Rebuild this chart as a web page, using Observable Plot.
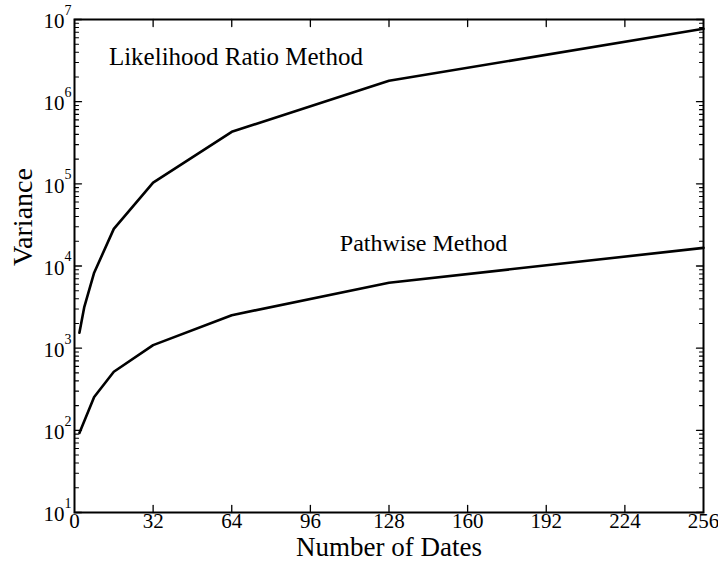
<!DOCTYPE html>
<html>
<head>
<meta charset="utf-8">
<script src="https://cdn.jsdelivr.net/npm/d3@7"></script>
<script src="https://cdn.jsdelivr.net/npm/@observablehq/plot@0.6"></script>
<style>
  html, body { margin: 0; padding: 0; background: #fff; }
  #chart svg { display: block; }
  #chart svg, #chart svg text { font-family: "Liberation Serif", "Times New Roman", serif !important; }
</style>
</head>
<body>
<div id="chart"></div>
<script>
// ---- data ----
const likelihoodDates = [2, 4, 8, 16, 32, 64, 128, 256];
const likelihoodVariance = [1540, 3190, 8280, 28300, 103700, 430000, 1800000, 7700000];
const pathwiseDates = [2, 8, 16, 32, 64, 128, 256];
const pathwiseVariance = [93, 255, 517, 1090, 2520, 6260, 16600];
const xTickValues = [0, 32, 64, 96, 128, 160, 192, 224, 256];
const yExponents = [1, 2, 3, 4, 5, 6, 7];
const seriesLabels = ["Likelihood Ratio Method", "Pathwise Method"];

const likelihood = likelihoodDates.map((d, i) => ({x: d, y: likelihoodVariance[i]}));
const pathwise = pathwiseDates.map((d, i) => ({x: d, y: pathwiseVariance[i]}));
const yMajor = yExponents.map(e => 10 ** e);
const yMinor = [];
for (const e of yExponents.slice(0, -1)) for (let k = 2; k <= 9; k++) yMinor.push(k * 10 ** e);
const xInner = xTickValues.slice(1, -1);

const annotations = [
  {x: 14, y: 3.5e6, text: seriesLabels[0], size: 25},
  {x: 108, y: 1.9e4, text: seriesLabels[1], size: 24}
];

const tickUp = {draw(c, l) { c.moveTo(0, 0); c.lineTo(0, -l); }};
const tickDown = {draw(c, l) { c.moveTo(0, 0); c.lineTo(0, l); }};
const tickRight = {draw(c, l) { c.moveTo(0, 0); c.lineTo(l, 0); }};
const tickLeft = {draw(c, l) { c.moveTo(0, 0); c.lineTo(-l, 0); }};

const font = "Liberation Serif, Times New Roman, serif";

const chart = Plot.plot({
  width: 718,
  height: 569,
  marginLeft: 74,
  marginRight: 15,
  marginTop: 19,
  marginBottom: 57,
  style: {background: "#fff", color: "#000"},
  x: {domain: [0, 256], axis: null},
  y: {type: "log", domain: [10, 1e7], axis: null},
  marks: [
    // ticks (inward)
    Plot.vector(xInner, {x: d => d, y: 10, length: 7, anchor: "start", shape: tickUp, stroke: "black", strokeWidth: 1.3}),
    Plot.vector(xInner, {x: d => d, y: 1e7, length: 7, anchor: "start", shape: tickDown, stroke: "black", strokeWidth: 1.3}),
    Plot.vector(yMajor, {x: 0, y: d => d, length: 7, anchor: "start", shape: tickRight, stroke: "black", strokeWidth: 1.3}),
    Plot.vector(yMinor, {x: 0, y: d => d, length: 4, anchor: "start", shape: tickRight, stroke: "black", strokeWidth: 1.1}),
    Plot.vector(yMajor, {x: 256, y: d => d, length: 7, anchor: "start", shape: tickLeft, stroke: "black", strokeWidth: 1.3}),
    Plot.vector(yMinor, {x: 256, y: d => d, length: 4, anchor: "start", shape: tickLeft, stroke: "black", strokeWidth: 1.1}),
    // frame
    Plot.frame({stroke: "black", strokeWidth: 2}),
    // data lines
    Plot.line(likelihood, {x: "x", y: "y", stroke: "black", strokeWidth: 2.6}),
    Plot.line(pathwise, {x: "x", y: "y", stroke: "black", strokeWidth: 2.6}),
    // x tick labels
    Plot.text(xTickValues, {x: d => d, y: 10, text: d => String(d), dy: 9, fontSize: 21, fontFamily: font, fill: "black"}),
    // y tick labels 10^n
    Plot.text(yMajor, {x: 0, y: d => d, text: () => "10", dx: -10, dy: 2, textAnchor: "end", fontSize: 21, fontFamily: font, fill: "black"}),
    Plot.text(yExponents, {x: 0, y: d => 10 ** d, text: d => String(d), dx: -10, dy: -9, textAnchor: "start", fontSize: 14, fontFamily: font, fill: "black"}),
    // axis titles
    Plot.text(["Number of Dates"], {frameAnchor: "bottom", dy: 43, fontSize: 27, fontFamily: font, fill: "black"}),
    Plot.text(["Variance"], {frameAnchor: "left", dx: -51, rotate: -90, fontSize: 28, fontFamily: font, fill: "black"}),
    // annotations
    Plot.text(annotations, {x: "x", y: "y", text: "text", textAnchor: "start", fontSize: "size", fontFamily: font, fill: "black"})
  ]
});
document.getElementById("chart").appendChild(chart);
</script>
</body>
</html>
